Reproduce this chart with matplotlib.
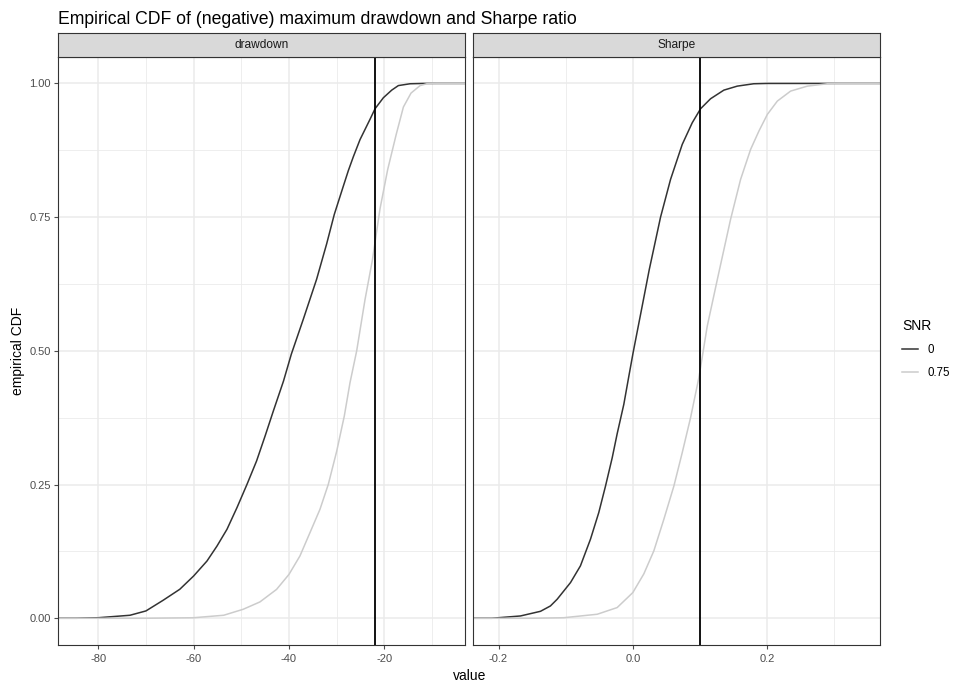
import numpy as np
import matplotlib
matplotlib.use("Agg")
import matplotlib.pyplot as plt
from matplotlib.lines import Line2D

plt.rcParams['font.family'] = ['Liberation Sans', 'DejaVu Sans']

# values (x value, empirical CDF)
dd_snr0_x = [-84.5, -80.0, -73.35, -70.0, -66.4, -62.9, -60.0, -57.2, -55.1, -53.0, -50.9,
             -48.8, -46.8, -45.0, -43.3, -41.15, -39.5, -37.0, -34.2, -32.1, -30.5, -28.6,
             -27.55, -26.5, -25.1, -23.0, -21.95, -20.2, -18.45, -17.06, -14.6, -11.8]
dd_snr0_y = [0.0, 0.001, 0.0056, 0.0137, 0.0336, 0.0542, 0.079, 0.107, 0.135, 0.1664, 0.207,
             0.2505, 0.294, 0.341, 0.387, 0.4435, 0.494, 0.559, 0.634, 0.700, 0.755, 0.808,
             0.837, 0.863, 0.895, 0.933, 0.9527, 0.9733, 0.9875, 0.996, 0.9994, 1.0]

dd_snr75_x = [-70.0, -60.0, -53.7, -49.6, -46.1, -42.6, -40.0, -37.7, -35.6, -33.5, -31.75,
              -30.0, -28.4, -27.2, -25.8, -24.05, -22.5, -20.9, -19.3, -17.5, -16.0, -14.4,
              -12.5, -11.1, -9.0, -6.9]
dd_snr75_y = [0.0, 0.001, 0.0056, 0.0168, 0.0305, 0.054, 0.082, 0.1165, 0.160, 0.2037, 0.2505,
              0.312, 0.378, 0.4405, 0.500, 0.596, 0.670, 0.766, 0.839, 0.905, 0.956, 0.982,
              0.996, 0.9994, 1.0, 1.0]

sr_snr0_x = [-0.210, -0.200, -0.1673, -0.1375, -0.1227, -0.1127, -0.0928, -0.078, -0.063,
             -0.0507, -0.0407, -0.0307, -0.0233, -0.0134, -0.006, 0.0005, 0.014, 0.0245,
             0.0413, 0.0562, 0.0736, 0.0885, 0.1009, 0.1158, 0.1356, 0.1556, 0.180, 0.200,
             0.230]
sr_snr0_y = [0.0, 0.001, 0.0043, 0.013, 0.023, 0.0355, 0.0667, 0.098, 0.148, 0.1976, 0.247,
             0.300, 0.345, 0.400, 0.452, 0.497, 0.584, 0.652, 0.750, 0.8206, 0.886, 0.9265,
             0.9527, 0.9714, 0.9875, 0.995, 0.9994, 1.0, 1.0]

sr_snr75_x = [-0.150, -0.103, -0.053, -0.0233, 0.0, 0.0164, 0.0313, 0.0462, 0.0611, 0.0736,
              0.086, 0.0984, 0.1045, 0.1108, 0.127, 0.1456, 0.1605, 0.1754, 0.1878, 0.2003,
              0.2152, 0.235, 0.260, 0.2897, 0.310, 0.341]
sr_snr75_y = [0.0, 0.001, 0.0075, 0.020, 0.048, 0.083, 0.126, 0.185, 0.247, 0.3097, 0.375,
              0.450, 0.497, 0.546, 0.640, 0.746, 0.8206, 0.8766, 0.911, 0.942, 0.967, 0.9857,
              0.995, 0.9994, 1.0, 1.0]

facet_names = ["drawdown", "Sharpe"]
snr_labels = ["0", "0.75"]
snr_colors = ["#333333", "#CCCCCC"]
vline_at = [-22.0, 0.1]
x_ticks = [[-80, -60, -40, -20], [-0.2, 0.0, 0.2]]
x_minor = [[-70, -50, -30, -10], [-0.1, 0.1, 0.3]]
y_ticks = [0.0, 0.25, 0.5, 0.75, 1.0]
y_minor = [0.125, 0.375, 0.625, 0.875]

series = [[(dd_snr0_x, dd_snr0_y), (dd_snr75_x, dd_snr75_y)],
          [(sr_snr0_x, sr_snr0_y), (sr_snr75_x, sr_snr75_y)]]

W, H = 959, 682
fig = plt.figure(figsize=(W / 100, H / 100), dpi=100)

panel_px = [(58.3, 465.3), (473.3, 880.3)]
top_px, bot_px = 56.7, 645.0
strip_top_px = 33.3

for i in range(2):
    x0, x1 = panel_px[i]
    ax = fig.add_axes([x0 / W, 1 - bot_px / H, (x1 - x0) / W, (bot_px - top_px) / H])
    # free x scale with ggplot's 5% expansion
    lo = min(min(s[0]) for s in series[i])
    hi = max(max(s[0]) for s in series[i])
    pad = 0.05 * (hi - lo)
    xlim = (lo - pad, hi + pad)
    ax.set_xlim(xlim)
    ax.set_ylim(-0.05, 1.05)

    for xv in x_minor[i]:
        ax.axvline(xv, color="#EBEBEB", lw=0.6, zorder=0)
    for yv in y_minor:
        ax.axhline(yv, color="#EBEBEB", lw=0.6, zorder=0)
    for xv in x_ticks[i]:
        ax.axvline(xv, color="#EBEBEB", lw=1.1, zorder=0)
    for yv in y_ticks:
        ax.axhline(yv, color="#EBEBEB", lw=1.1, zorder=0)

    for (xs, ys), col in zip(series[i], snr_colors):
        # stat_ecdf pads the curve out to the panel edges
        px = [xlim[0]] + list(xs) + [xlim[1]]
        py = [0.0] + list(ys) + [1.0]
        ax.plot(px, py, color=col, lw=1.1, zorder=2)

    ax.axvline(vline_at[i], color="black", lw=1.3, zorder=3)

    ax.set_xticks(x_ticks[i])
    ax.set_xticklabels(["%g" % t if abs(t) >= 1 else "%.1f" % t for t in x_ticks[i]])
    ax.set_yticks(y_ticks)
    ax.tick_params(axis="both", labelsize=8, colors="#4D4D4D", width=0.8,
                   length=3, pad=2.5)
    ax.tick_params(axis="x", pad=3.5)
    if i == 0:
        ax.set_yticklabels(["%.2f" % t for t in y_ticks])
    else:
        ax.tick_params(axis="y", length=0, labelleft=False)
    for sp in ax.spines.values():
        sp.set_color("#333333")
        sp.set_linewidth(0.8)

    # facet strip
    sax = fig.add_axes([x0 / W, 1 - top_px / H, (x1 - x0) / W, (top_px - strip_top_px) / H])
    sax.set_facecolor("#D9D9D9")
    sax.set_xticks([])
    sax.set_yticks([])
    for sp in sax.spines.values():
        sp.set_color("#333333")
        sp.set_linewidth(0.8)
    sax.text(0.5, 0.5, facet_names[i], ha="center", va="center", fontsize=8.6,
             color="#1A1A1A", transform=sax.transAxes)

fig.text(58 / W, 1 - 23.5 / H, "Empirical CDF of (negative) maximum drawdown and Sharpe ratio",
         fontsize=12.7, ha="left", va="baseline")
fig.text(469.3 / W, 1 - 676 / H, "value", fontsize=10, ha="center", va="center")
fig.text(18 / W, 1 - 351 / H, "empirical CDF", fontsize=10, ha="center", va="center",
         rotation=90)

handles = [Line2D([], [], color=c, lw=1.1) for c in snr_colors]
leg = fig.legend(handles, snr_labels, title="SNR", loc="upper left",
                 bbox_to_anchor=(902 / W, 1 - 319 / H), frameon=False, fontsize=8.3,
                 title_fontsize=10, handlelength=1.35, handletextpad=0.9,
                 labelspacing=0.95, borderpad=0, borderaxespad=0, alignment="left")

fig.savefig("out.png", dpi=100)
